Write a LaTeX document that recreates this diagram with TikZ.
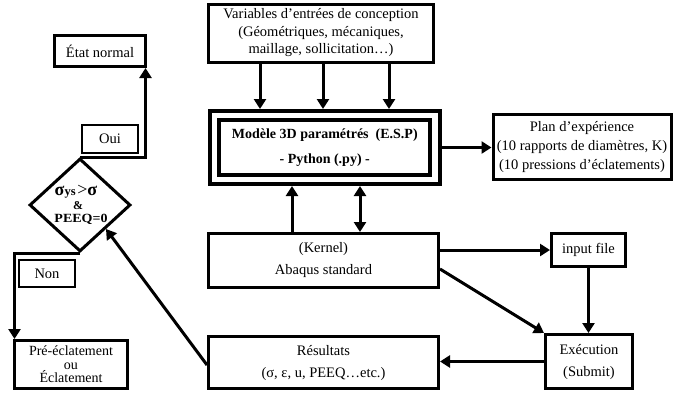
\documentclass[tikz,border=0pt]{standalone}
\usepackage{fontspec}
\setmainfont{Liberation Serif}
\usetikzlibrary{arrows.meta,shapes.geometric,calc}
\begin{document}
\begin{tikzpicture}[x=1pt,y=-1pt,
  box/.style={draw,line width=3pt,rectangle,inner sep=0pt,align=center,font=\fontsize{14.5}{17.5}\selectfont},
  wide/.style={box,font=\fontsize{14.5}{22}\selectfont},
  tag/.style={draw,line width=1.6pt,rectangle,inner sep=0pt,font=\fontsize{14.5}{17}\selectfont},
  arr/.style={line width=3pt,-{Triangle[length=10pt,width=12pt]}},
  darr/.style={line width=3pt,{Triangle[length=10pt,width=12pt]}-{Triangle[length=10pt,width=12pt]}},
  ln/.style={line width=3pt}]
\useasboundingbox (0,0) rectangle (673,392);

% boxes
\node[box,minimum width=91pt,minimum height=31pt] (etat) at (100,51) {État normal};
\node[tag,minimum width=56.4pt,minimum height=28.4pt] (oui) at (110,139) {Oui};
\node[diamond,draw,line width=3pt,minimum width=101pt,minimum height=93pt,inner sep=0pt] (dia) at (80,205) {};
\node[anchor=base,inner sep=0pt] (c1) at (76,195.5) {{\fontsize{18}{18}\selectfont\bfseries σ}{\fontsize{12.5}{12.5}\selectfont\bfseries ys}\,{\fontsize{18}{18}\selectfont >}{\fontsize{18}{18}\selectfont\bfseries σ}};
\node[anchor=base,inner sep=0pt] (c2) at (78,209) {\fontsize{12}{12}\selectfont\bfseries \&};
\node[anchor=base,inner sep=0pt] (c3) at (81,222.5) {\fontsize{12.5}{12.5}\selectfont\bfseries\scalebox{1.12}[1]{PEEQ=0}};
\node[tag,minimum width=56.4pt,minimum height=27.4pt] (non) at (47,273.5) {Non};
\node[box,minimum width=113pt,minimum height=48pt,font=\fontsize{14}{13.5}\selectfont] (pre) at (71,364.5) {Pré-éclatement\\ou\\Éclatement};

\node[box,minimum width=225pt,minimum height=58pt] (var) at (321,33) {Variables d’entrées de conception\\(Géométriques, mécaniques,\\maillage, sollicitation…)};
\node[draw,line width=3.8pt,double,double distance=5.5pt,rectangle,inner sep=0pt,outer sep=6.5pt,minimum width=220.5pt,minimum height=64pt,align=center,font=\fontsize{14}{25}\selectfont\bfseries] (mod) at (324.75,147.5) {Modèle 3D paramétrés~~(E.S.P)\\- Python (.py) -};
\node[box,minimum width=178pt,minimum height=65pt,font=\fontsize{14.5}{19}\selectfont] (plan) at (582,147) {Plan d’expérience\\(10 rapports de diamètres, K)\\(10 pressions d'éclatements)};
\node[wide,minimum width=230pt,minimum height=54pt] (kernel) at (323.5,260.5) {(Kernel)\\Abaqus standard};
\node[wide,minimum width=230pt,minimum height=52pt] (res) at (323.5,362.5) {Résultats\\(σ, ε, u, PEEQ…etc.)};
\node[box,minimum width=74pt,minimum height=33pt] (input) at (588.5,250) {input file};
\node[wide,minimum width=87pt,minimum height=54pt] (exec) at (589,361.5) {Exécution\\(Submit)};

% connectors
\foreach \s in {-61,2,68}
  \draw[arr] ([xshift=\s pt]var.south) -- ([xshift=\s pt]var.south |- mod.north);
\draw[arr] ([xshift=-31.5pt]kernel.north) -- ([xshift=-31.5pt]kernel.north |- mod.south);
\draw[darr] ([xshift=36.5pt]kernel.north) -- ([xshift=36.5pt]kernel.north |- mod.south);
\draw[arr] (mod.east) -- (mod.east -| plan.west);
\draw[arr] (kernel.east |- input.west) -- (input.west);
\draw[arr] ([yshift=-8.5pt]kernel.east) -- (exec.north west);
\draw[arr] (input.south) -- (input.south |- exec.north);
\draw[arr] (exec.west) -- (exec.west -| res.east);
\draw[arr] ([yshift=-2.5pt]res.west) -- ($(dia.east)!0.5!(dia.south)$);
\draw[arr] (dia.north) -| ([xshift=-1.5pt]etat.south east);
\draw[arr] (dia.south) -| ([xshift=1.5pt]pre.north west);
\end{tikzpicture}
\end{document}
